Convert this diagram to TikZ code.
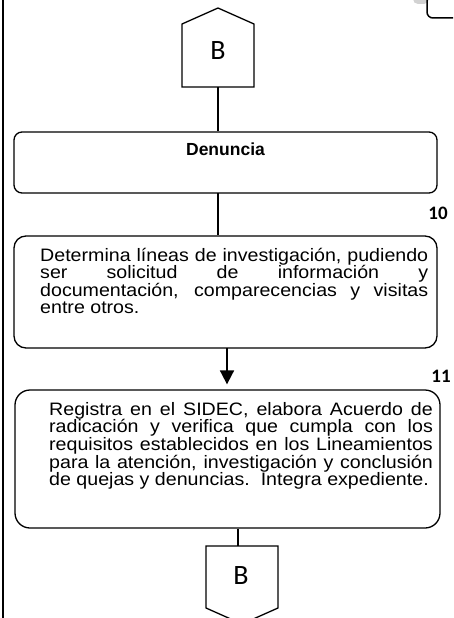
\documentclass[tikz,border=0pt]{standalone}
\usepackage{fontspec}
\usepackage{graphicx}
\setmainfont{Liberation Sans}
\newfontfamily\calibri{Carlito}
\usetikzlibrary{arrows.meta}
% texto ancho como en el original
\newcommand{\ancho}[2]{\scalebox{1.09}[1]{\parbox[t]{#1}{#2}}}
\tikzset{
  caja/.style={draw, line width=1.3pt, rounded corners=#1, inner sep=0pt},
  texto/.style={inner sep=0pt, anchor=base west},
  conector/.style={draw, line width=1.3pt},
  letra/.style={font=\calibri\fontsize{28}{30}\selectfont},
  paso/.style={font=\calibri\bfseries\fontsize{19}{21}\selectfont}
}
\begin{document}
\begin{tikzpicture}[x=1pt,y=-1pt]
\useasboundingbox (0,0) rectangle (453,618);
\clip (0,0) rectangle (453,618);
% marco izquierdo y caja de arriba
\draw[line width=1.7pt] (3,0) -- (3,618);
\fill[gray!35, rounded corners=5pt] (413,-20) rectangle (429,4);
\draw[line width=1.5pt, rounded corners=6pt] (427,-10) -- (427,18) -- (470,18);
% conector de entrada B
\draw[line width=1.3pt] (182,87) -- (182,24) -- (218,8) -- (254,24) -- (254,87) -- cycle;
\coordinate (entB) at (218,87);
\node[letra] (letB1) at (218,51) {B};
% Denuncia
\node[caja=8pt, minimum width=423pt, minimum height=61pt] (den) at (225.5,162.5) {};
\node[font=\bfseries\fontsize{17.5}{19}\selectfont, anchor=base, inner sep=0pt] (tden) at (225.5,155) {Denuncia};
\draw[conector] (entB) -- (entB |- den.north);
% paso 10
\node[paso] (n10) at (438,213) {10};
\node[caja=12pt, minimum width=423pt, minimum height=112pt] (b10) at (225.5,292) {};
\node[texto, font={\fontsize{18}{16.8}\selectfont\lineskiplimit=-10pt}] (t10) at (40,261)
  {\ancho{356pt}{Determina líneas de investigación, pudiendo\linebreak ser solicitud de información y\linebreak documentación, comparecencias y visitas\linebreak entre otros.}};
\coordinate (den10) at (218,193);
\draw[conector] (den10) -- (den10 |- b10.north);
% paso 11
\node[paso] (n11) at (441,376) {11};
\node[caja=15pt, minimum width=425pt, minimum height=138pt] (b11) at (227.5,459) {};
\node[texto, font={\fontsize{18}{17.7}\selectfont\lineskiplimit=-10pt}] (t11) at (49,415)
  {\ancho{352pt}{Registra en el SIDEC, elabora Acuerdo de\linebreak radicación y verifica que cumpla con los\linebreak requisitos establecidos en los Lineamientos\linebreak para la atención, investigación y conclusión\linebreak de quejas y denuncias.\ \ Integra expediente.}};
\coordinate (fl10) at (227,348);
\draw[line width=1.8pt, -{Triangle[width=14pt,length=14pt]}, shorten >=5pt] (fl10) -- (fl10 |- b11.north);
% conector de salida B
\draw[line width=1.3pt] (206,546) -- (206,608) -- (242,624) -- (278,608) -- (278,546) -- cycle;
\coordinate (salB) at (238,546);
\node[letra] (letB2) at (241,576) {B};
\draw[conector] (salB |- b11.south) -- (salB);
\end{tikzpicture}
\end{document}
